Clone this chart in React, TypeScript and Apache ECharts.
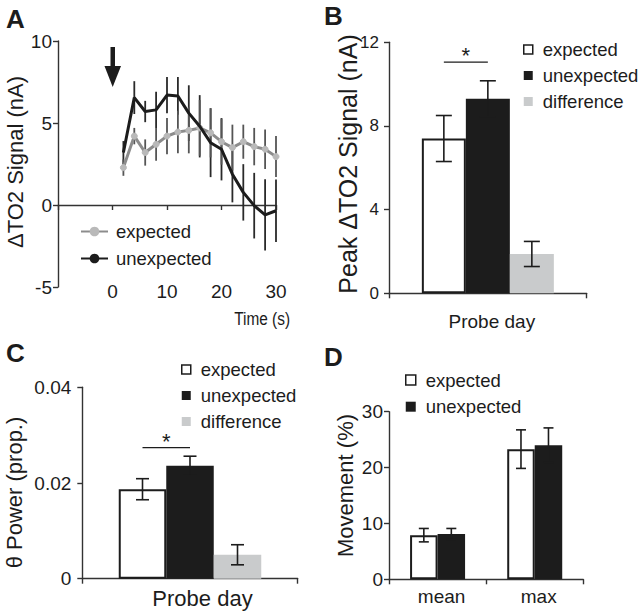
import React, { useEffect, useRef } from 'react';
import * as echarts from 'echarts';

const FONT = "'Liberation Sans', Arial, Helvetica, sans-serif";
const INK = '#1c1c1c';
const AXIS = '#333333';

// ---------- Panel A: time course ----------
const timeSec = [2, 4, 6, 8, 10, 12, 14, 16, 18, 20, 22, 24, 26, 28, 30];
const expectedSignal = [2.28, 4.2, 3.2, 3.7, 4.2, 4.45, 4.55, 4.7, 4.4, 3.86, 3.5, 3.86, 3.56, 3.4, 2.95];
const expectedSignalErr = [0.5, 0.5, 0.8, 1.0, 1.1, 1.3, 1.4, 1.7, 1.5, 1.4, 1.4, 1.04, 1.14, 1.2, 1.25];
const unexpectedSignal = [3.2, 6.55, 5.7, 5.8, 6.7, 6.65, 5.6, 4.8, 3.8, 3.4, 1.88, 0.77, -0.04, -0.6, -0.35];
const unexpectedSignalErr = [0.7, 1.0, 0.65, 1.1, 1.1, 1.15, 1.7, 1.9, 2.1, 1.9, 1.72, 1.72, 2.0, 2.17, 1.9];

// ---------- Panel B: peak signal ----------
const probeCategories = ['Probe day'];
const groupNames = ['expected', 'unexpected', 'difference'];
const peakSignal = [7.4, 9.3, 1.88];
const peakSignalErr = [1.1, 0.86, 0.6];
const peakSignificance = 11.05;

// ---------- Panel C: theta power ----------
const thetaPower = [0.0187, 0.0236, 0.005];
const thetaPowerErr = [0.0022, 0.002, 0.0021];
const thetaSignificance = 0.0274;

// ---------- Panel D: movement ----------
const movementCategories = ['mean', 'max'];
const movementExpected = [7.9, 23.3];
const movementExpectedErr = [1.2, 3.45];
const movementUnexpected = [8.1, 24.0];
const movementUnexpectedErr = [1.0, 3.1];

const groupStyles = [
  { color: '#ffffff', borderColor: INK, borderWidth: 2 },
  { color: INK, borderColor: INK, borderWidth: 0 },
  { color: '#c9cbcc', borderColor: '#c9cbcc', borderWidth: 0 },
];

function barErrRender(barWidth: number, capW: number) {
  return (params: any, api: any) => {
    const c = api.value(0);
    const v = api.value(1);
    const e = api.value(2);
    const off = api.value(3);
    const top = api.coord([c, v + e]);
    const bot = api.coord([c, v - e]);
    const x = top[0] + off * barWidth;
    const style = { stroke: INK, lineWidth: 1.6, fill: null };
    return {
      type: 'group',
      children: [
        { type: 'line', shape: { x1: x, y1: top[1], x2: x, y2: bot[1] }, style },
        { type: 'line', shape: { x1: x - capW / 2, y1: top[1], x2: x + capW / 2, y2: top[1] }, style },
        { type: 'line', shape: { x1: x - capW / 2, y1: bot[1], x2: x + capW / 2, y2: bot[1] }, style },
      ],
    };
  };
}

function sigRender(barWidth: number, offA: number, offB: number, starDy: number) {
  return (params: any, api: any) => {
    const p = api.coord([api.value(0), api.value(1)]);
    const x1 = p[0] + offA * barWidth;
    const x2 = p[0] + offB * barWidth;
    return {
      type: 'group',
      children: [
        { type: 'line', shape: { x1, y1: p[1], x2, y2: p[1] }, style: { stroke: INK, lineWidth: 1.4 } },
        {
          type: 'text',
          x: (x1 + x2) / 2,
          y: p[1] - starDy,
          style: { text: '*', fontSize: 22, fontFamily: FONT, fill: INK, align: 'center', verticalAlign: 'middle' },
        },
      ],
    };
  };
}

function lineErrRender(color: string) {
  return (params: any, api: any) => {
    const x = api.value(0);
    const v = api.value(1);
    const e = api.value(2);
    const a = api.coord([x, v + e]);
    const b = api.coord([x, v - e]);
    return { type: 'line', shape: { x1: a[0], y1: a[1], x2: b[0], y2: b[1] }, style: { stroke: color, lineWidth: 1.8 } };
  };
}

const axisLine = { show: true, onZero: false, lineStyle: { color: AXIS, width: 1.4 } };
const axisTick = { show: true, length: 5, lineStyle: { color: AXIS, width: 1.4 } };

function vText(text: string, x: number, y: number, size: number) {
  return {
    type: 'text',
    x,
    y,
    rotation: Math.PI / 2,
    style: {
      text,
      fontSize: size,
      fontFamily: FONT,
      fill: INK,
      align: 'center',
      verticalAlign: 'middle',
      textAlign: 'center',
      textVerticalAlign: 'middle',
    },
  };
}

function hText(text: string, x: number, y: number, size: number, bold = false, align = 'left', scaleX = 1) {
  return {
    type: 'text',
    x,
    y,
    scaleX,
    style: {
      text,
      fontSize: size,
      fontWeight: bold ? 'bold' : 'normal',
      fontFamily: FONT,
      fill: INK,
      align,
      verticalAlign: 'middle',
      textAlign: align,
      textVerticalAlign: 'middle',
    },
  };
}

function legendFor(prefix: string, names: string[], left: number, top: number, size: number, gap: number) {
  return {
    left,
    top,
    padding: 0,
    orient: 'vertical',
    selectedMode: false,
    itemWidth: size,
    itemHeight: size,
    itemGap: gap,
    icon: 'rect',
    formatter: (n: string) => n.slice(2),
    textStyle: { fontSize: 18.5, fontFamily: FONT, color: INK, padding: [0, 0, 0, 5] },
    data: names.map((n, i) => ({ name: prefix + n, icon: 'rect', itemStyle: { ...groupStyles[i], borderWidth: groupStyles[i].borderWidth ? 1.5 : 0 } })),
  };
}

export default function App() {
  const ref = useRef<HTMLDivElement>(null);

  useEffect(() => {
    document.body.style.margin = '0';
    const chart = echarts.init(ref.current!, null, { renderer: 'svg' });

    const BW_B = 44;
    const BW_C = 47.5;
    const BW_D = 27.5;

    const series: any[] = [];

    // Panel A
    series.push({
      type: 'custom',
      name: 'A-unexpected-err',
      xAxisIndex: 0,
      yAxisIndex: 0,
      renderItem: lineErrRender('#2a2a2a'),
      data: timeSec.map((t, i) => [t, unexpectedSignal[i], unexpectedSignalErr[i]]),
      z: 1,
      silent: true,
    });
    series.push({
      type: 'custom',
      name: 'A-expected-err',
      xAxisIndex: 0,
      yAxisIndex: 0,
      renderItem: lineErrRender('#555555'),
      data: timeSec.map((t, i) => [t, expectedSignal[i], expectedSignalErr[i]]),
      z: 1,
      silent: true,
    });
    series.push({
      type: 'line',
      name: 'A-expected',
      xAxisIndex: 0,
      yAxisIndex: 0,
      data: timeSec.map((t, i) => [t, expectedSignal[i]]),
      lineStyle: { color: '#8c8c8c', width: 3 },
      itemStyle: { color: '#b9b9b9', borderColor: '#b9b9b9' },
      symbol: 'circle',
      symbolSize: 6,
      z: 3,
    });
    series.push({
      type: 'line',
      name: 'A-unexpected',
      xAxisIndex: 0,
      yAxisIndex: 0,
      data: timeSec.map((t, i) => [t, unexpectedSignal[i]]),
      lineStyle: { color: INK, width: 3 },
      itemStyle: { color: INK },
      symbol: 'none',
      z: 4,
    });

    // Panel B
    groupNames.forEach((n, i) => {
      series.push({
        type: 'bar',
        name: 'B-' + n,
        xAxisIndex: 2,
        yAxisIndex: 1,
        barWidth: BW_B,
        barGap: '0%',
        data: [peakSignal[i]],
        itemStyle: groupStyles[i],
      });
    });
    series.push({
      type: 'custom',
      name: 'B-err',
      xAxisIndex: 2,
      yAxisIndex: 1,
      renderItem: barErrRender(BW_B, 16),
      data: peakSignal.map((v, i) => [0, v, peakSignalErr[i], i - 1]),
      z: 5,
    });
    series.push({
      type: 'custom',
      name: 'B-sig',
      xAxisIndex: 2,
      yAxisIndex: 1,
      renderItem: sigRender(BW_B, -1, 0, 7),
      data: [[0, peakSignificance]],
      z: 5,
    });

    // Panel C
    groupNames.forEach((n, i) => {
      series.push({
        type: 'bar',
        name: 'C-' + n,
        xAxisIndex: 3,
        yAxisIndex: 2,
        barWidth: BW_C,
        barGap: '0%',
        data: [thetaPower[i]],
        itemStyle: groupStyles[i],
      });
    });
    series.push({
      type: 'custom',
      name: 'C-err',
      xAxisIndex: 3,
      yAxisIndex: 2,
      renderItem: barErrRender(BW_C, 13),
      data: thetaPower.map((v, i) => [0, v, thetaPowerErr[i], i - 1]),
      z: 5,
    });
    series.push({
      type: 'custom',
      name: 'C-sig',
      xAxisIndex: 3,
      yAxisIndex: 2,
      renderItem: sigRender(BW_C, -1, 0, 6),
      data: [[0, thetaSignificance]],
      z: 5,
    });

    // Panel D
    const dVals = [movementExpected, movementUnexpected];
    const dErrs = [movementExpectedErr, movementUnexpectedErr];
    ['expected', 'unexpected'].forEach((n, i) => {
      series.push({
        type: 'bar',
        name: 'D-' + n,
        xAxisIndex: 4,
        yAxisIndex: 3,
        barWidth: BW_D,
        barGap: '0%',
        data: dVals[i],
        itemStyle: groupStyles[i],
      });
    });
    series.push({
      type: 'custom',
      name: 'D-err',
      xAxisIndex: 4,
      yAxisIndex: 3,
      renderItem: barErrRender(BW_D, 10),
      data: movementCategories.flatMap((c, ci) => dVals.map((vals, si) => [ci, vals[ci], dErrs[si][ci], si - 0.5])),
      z: 5,
    });

    const option: any = {
      animation: false,
      textStyle: { fontFamily: FONT },
      grid: [
        { left: 58, top: 41, width: 218, height: 246 },
        { left: 389, top: 42.3, width: 197.7, height: 251 },
        { left: 82.3, top: 387.3, width: 215.4, height: 191.4 },
        { left: 389, top: 411.7, width: 194.3, height: 167.6 },
      ],
      xAxis: [
        {
          gridIndex: 0,
          type: 'value',
          min: -10,
          max: 30,
          interval: 10,
          axisLine: { show: true, onZero: true, lineStyle: { color: AXIS, width: 1.4 } },
          axisTick,
          axisLabel: { show: false },
          splitLine: { show: false },
        },
        {
          gridIndex: 0,
          type: 'value',
          min: -10,
          max: 30,
          interval: 10,
          position: 'bottom',
          axisLine: { show: false, onZero: false },
          axisTick: { show: false },
          axisLabel: {
            fontSize: 19,
            color: INK,
            margin: -5,
            formatter: (v: number) => (v < 0 ? '' : String(v)),
          },
          splitLine: { show: false },
        },
        {
          gridIndex: 1,
          type: 'category',
          data: probeCategories,
          axisLine,
          axisTick,
          axisLabel: { fontSize: 19, color: INK, margin: 19, padding: [0, 0, 0, 8] },
        },
        {
          gridIndex: 2,
          type: 'category',
          data: probeCategories,
          axisLine,
          axisTick,
          axisLabel: { fontSize: 22, color: INK, margin: 9, padding: [0, 0, 0, 25] },
        },
        {
          gridIndex: 3,
          type: 'category',
          data: movementCategories,
          axisLine,
          axisTick,
          axisLabel: { fontSize: 19, color: INK, margin: 8, interval: 0, padding: [0, 0, 0, 8] },
        },
      ],
      yAxis: [
        {
          gridIndex: 0,
          type: 'value',
          min: -5,
          max: 10,
          interval: 5,
          axisLine,
          axisTick,
          axisLabel: { fontSize: 19, color: INK, margin: 6 },
          splitLine: { show: false },
        },
        {
          gridIndex: 1,
          type: 'value',
          min: 0,
          max: 12,
          interval: 4,
          axisLine,
          axisTick,
          axisLabel: { fontSize: 17, color: INK, margin: 10 },
          splitLine: { show: false },
        },
        {
          gridIndex: 2,
          type: 'value',
          min: 0,
          max: 0.04,
          interval: 0.02,
          axisLine,
          axisTick,
          axisLabel: { fontSize: 19, color: INK, margin: 11 },
          splitLine: { show: false },
        },
        {
          gridIndex: 3,
          type: 'value',
          min: 0,
          max: 30,
          interval: 10,
          axisLine,
          axisTick,
          axisLabel: { fontSize: 19, color: INK, margin: 6 },
          splitLine: { show: false },
        },
      ],
      legend: [
        {
          left: 80,
          top: 222,
          padding: 0,
          orient: 'vertical',
          selectedMode: false,
          itemWidth: 27,
          itemHeight: 12,
          itemGap: 8,
          formatter: (n: string) => n.slice(2),
          textStyle: { fontSize: 18.5, fontFamily: FONT, color: INK, padding: [0, 0, 0, 3] },
          data: ['A-expected', 'A-unexpected'],
        },
        legendFor('B-', groupNames, 523, 40, 9, 7),
        legendFor('C-', groupNames, 181, 360, 9, 7),
        legendFor('D-', ['expected', 'unexpected'], 405, 370.5, 10, 7.7),
      ],
      graphic: [
        hText('A', 6, 19, 26, true),
        hText('B', 324, 16, 26, true),
        hText('C', 6, 353, 26, true),
        hText('D', 324, 357, 26, true),
        vText('ΔTO2 Signal (nA)', 15, 162, 22),
        vText('Peak ΔTO2 Signal (nA)', 347.5, 164, 25),
        vText('θ Power (prop.)', 14.5, 492.5, 22),
        vText('Movement (%)', 345, 485.5, 22),
        hText('Time (s)', 290, 318.5, 19, false, 'right', 0.81),
        {
          type: 'group',
          children: [
            { type: 'rect', shape: { x: 110.5, y: 47, width: 4.5, height: 22 }, style: { fill: INK } },
            { type: 'polygon', shape: { points: [[104.5, 66], [121, 66], [112.7, 87]] }, style: { fill: INK } },
          ],
        },
      ],
      series,
    };

    chart.setOption(option);
    return () => chart.dispose();
  }, []);

  return <div ref={ref} style={{ width: 640, height: 612 }} />;
}
